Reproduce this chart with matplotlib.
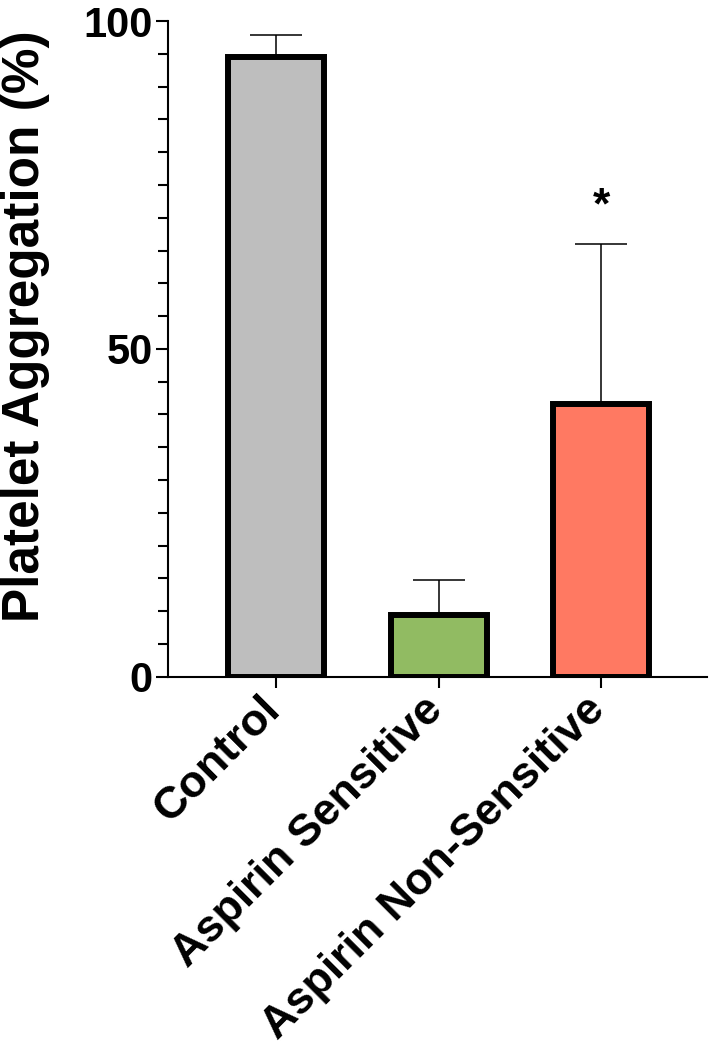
import numpy as np
import matplotlib.pyplot as plt
import matplotlib.transforms as mtransforms
from matplotlib.ticker import MultipleLocator

groups = ['Control', 'Aspirin Sensitive', 'Aspirin Non-Sensitive']
means = [94.5, 9.4, 41.6]
errs = [3.4, 5.4, 24.4]
colors = ['#BEBEBE', '#91BB62', '#FF7962']
marks = ['', '', '*']

plt.rcParams['font.family'] = ['Liberation Sans', 'DejaVu Sans']
plt.rcParams['font.weight'] = 'bold'

fig = plt.figure(figsize=(7.09, 10.54), dpi=100)
ax = fig.add_axes([0.237, 0.358, 0.76, 0.622])

x = np.arange(len(groups))
ax.bar(x, means, width=0.59, color=colors, edgecolor='black', linewidth=4.3, zorder=3)
ax.errorbar(x, means, yerr=[np.zeros(len(errs)), errs], fmt='none', ecolor='black',
            elinewidth=1.1, capsize=18.5, capthick=1.1, zorder=2)
for xi, m, e, s in zip(x, means, errs, marks):
    if s:
        ax.text(xi, m + e + 2.5, s, ha='center', va='bottom', fontsize=32, fontweight='bold')

ax.set_xlim(-0.667, 2.65)
ax.set_ylim(0, 100)
ax.set_yticks([0, 50, 100])
ax.yaxis.set_minor_locator(MultipleLocator(5))
ax.set_xticks(x)
ax.set_xticklabels(groups, rotation=45, ha='right', rotation_mode='anchor', fontsize=32.3, fontweight='bold')
ax.tick_params(axis='y', labelsize=30, width=1.5, length=9, pad=2)
ax.tick_params(axis='y', which='minor', width=1.5, length=7)
ax.tick_params(axis='x', width=1.5, length=8, pad=0)
for lab in ax.get_yticklabels():
    lab.set_fontweight('bold')
# nudge the rotated labels so their ends sit at the ticks
shift = mtransforms.ScaledTranslation(-0.17, -0.01, fig.dpi_scale_trans)
for lab in ax.get_xticklabels():
    lab.set_transform(lab.get_transform() + shift)

ax.set_ylabel('Platelet Aggregation (%)', fontsize=37, fontweight='bold')
ax.yaxis.set_label_coords(-0.219, 0.535)

ax.spines['top'].set_visible(False)
ax.spines['right'].set_visible(False)
ax.spines['left'].set_linewidth(1.5)
ax.spines['bottom'].set_linewidth(1.5)

fig.savefig('out.png', dpi=100)
